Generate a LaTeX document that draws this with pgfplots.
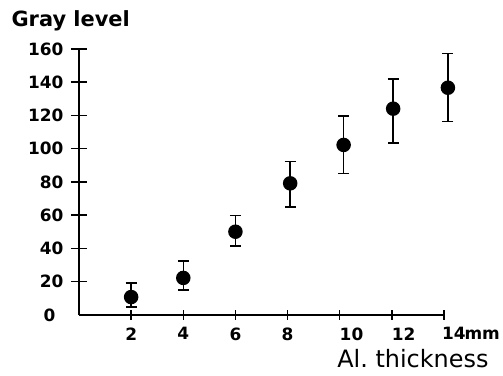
\documentclass[border=0pt]{standalone}
\usepackage{pgfplots}
\pgfplotsset{compat=1.18}
\usepackage{pgfplotstable}
\usepackage{fontspec}
\setmainfont{DejaVu Sans}
\pgfplotstableread{
x y ep em
2 10.8 8.4 6.0
4 22.3 10.2 7.3
6 50.1 9.6 8.6
8.1 79.2 13.2 14.1
10.15 102.3 17.4 17.1
12.05 124.1 17.9 20.5
14.15 136.7 20.7 20.4
}\grayData
\begin{document}
\begin{tikzpicture}
\useasboundingbox (0,0) rectangle (503bp,376bp);
\begin{axis}[
  at={(79bp,61bp)}, anchor=south west,
  scale only axis, width=365bp, height=266bp,
  xmin=0, xmax=14, ymin=0, ymax=160,
  axis x line*=bottom, axis y line*=left,
  axis line style={line width=1.5bp},
  clip=false,
  xtick={2,4,6,8,10,12,14},
  xticklabels={2,4,6,8,\rlap{10},\rlap{12},\rlap{\hspace{-2bp}14\kern-1bp mm}},
  ytick={20,40,60,80,100,120,140,160},
  yticklabels={20,40,60,80,100,120,140,160},
  extra y ticks={0},
  extra y tick labels={0},
  extra y tick style={tick style={draw=none}, yticklabel style={xshift=-8bp}},
  tick align=center,
  major tick length=16bp,
  tick style={line width=1.5bp, black},
  xtick style={/pgfplots/major tick length=9bp},
  ticklabel style={font=\fontsize{17}{18}\selectfont\bfseries},
  yticklabel style={anchor=east, xshift=-4bp},
  xticklabel style={anchor=north, yshift=-1bp},
  every axis y label/.style={at={(axis description cs:0,1)}, anchor=base west, xshift=-71bp, yshift=22bp},
  ylabel={\fontsize{21}{22}\selectfont\bfseries Gray\ level},
  every axis x label/.style={at={(axis description cs:1,0)}, anchor=base east, xshift=48bp, yshift=-52bp},
  xlabel={\fontsize{24}{25}\selectfont Al.\ thickness},
  error bars/error bar style={line width=1.5bp},
]
\addplot[black, line width=1.5bp, only marks, mark=*, mark size=6.5bp,
  error bars/.cd, y dir=both, y explicit,
  error mark options={rotate=90, mark size=5.5bp, line width=1.5bp},
  error bar style={line width=1.5bp, draw=black}]
  table[x=x, y=y, y error plus=ep, y error minus=em] {\grayData};
\end{axis}
\end{tikzpicture}
\end{document}
